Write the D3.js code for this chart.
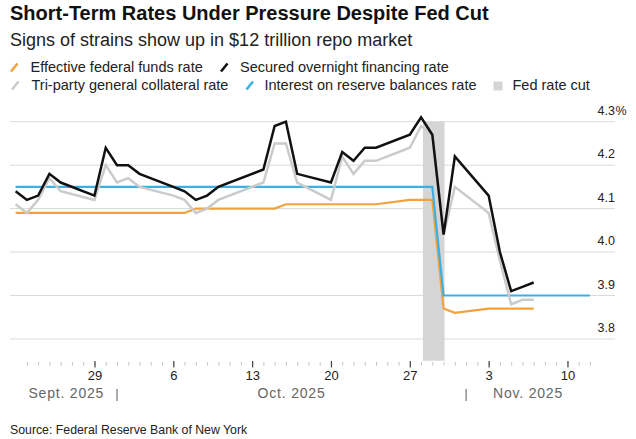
<!DOCTYPE html>
<meta charset="utf-8">
<style>
  body { margin: 0; background: #fff; }
  text { font-family: "Liberation Sans", Arial, sans-serif; }
</style>
<body>
<div id="chart"></div>

<script src="https://d3js.org/d3.v7.min.js"></script>
<script>

// business days shown (Oct 13 was a holiday, no fixing)
var days = [
  "2025-09-22","2025-09-23","2025-09-24","2025-09-25","2025-09-26",
  "2025-09-29","2025-09-30","2025-10-01","2025-10-02","2025-10-03",
  "2025-10-06","2025-10-07","2025-10-08","2025-10-09","2025-10-10",
  "2025-10-14","2025-10-15","2025-10-16","2025-10-17",
  "2025-10-20","2025-10-21","2025-10-22","2025-10-23","2025-10-24",
  "2025-10-27","2025-10-28","2025-10-29","2025-10-30","2025-10-31",
  "2025-11-03","2025-11-04","2025-11-05","2025-11-06","2025-11-07"
];

// Secured overnight financing rate
var sofr = [4.14, 4.12, 4.13, 4.18, 4.16,
            4.13, 4.24, 4.20, 4.20, 4.18,
            4.15, 4.14, 4.12, 4.13, 4.15,
            4.19, 4.29, 4.30, 4.18,
            4.16, 4.23, 4.21, 4.24, 4.24,
            4.27, 4.31, 4.27, 4.04, 4.22,
            4.13, 4.00, 3.91, 3.92, 3.93];

// Tri-party general collateral rate
var tgcr = [4.11, 4.09, 4.12, 4.17, 4.14,
            4.12, 4.20, 4.16, 4.17, 4.15,
            4.13, 4.12, 4.09, 4.10, 4.12,
            4.16, 4.25, 4.25, 4.16,
            4.12, 4.22, 4.18, 4.21, 4.21,
            4.24, 4.29, 4.27, 4.04, 4.15,
            4.09, 3.98, 3.88, 3.89, 3.89];

// Effective federal funds rate
var effr = [4.09, 4.09, 4.09, 4.09, 4.09,
            4.09, 4.09, 4.09, 4.09, 4.09,
            4.09, 4.09, 4.10, 4.10, 4.10,
            4.10, 4.10, 4.11, 4.11,
            4.11, 4.11, 4.11, 4.11, 4.11,
            4.12, 4.12, 4.12, 3.87, 3.86,
            3.87, 3.87, 3.87, 3.87, 3.87];

// Interest on reserve balances rate (known ahead, runs further right)
var iorbDays = days.concat(["2025-11-10","2025-11-11","2025-11-12"]);
var iorb = [4.15, 4.15, 4.15, 4.15, 4.15,
            4.15, 4.15, 4.15, 4.15, 4.15,
            4.15, 4.15, 4.15, 4.15, 4.15,
            4.15, 4.15, 4.15, 4.15,
            4.15, 4.15, 4.15, 4.15, 4.15,
            4.15, 4.15, 4.15, 3.90, 3.90,
            3.90, 3.90, 3.90, 3.90, 3.90,
            3.90, 3.90, 3.90];

// Fed rate cut window
var cutWindow = ["2025-10-28T04:00", "2025-10-30T02:00"];

var yTicks = [3.8, 3.9, 4.0, 4.1, 4.2, 4.3];
var weekTicks = ["2025-09-29","2025-10-06","2025-10-13","2025-10-20","2025-10-27","2025-11-03","2025-11-10"];
var monthStarts = ["2025-09-01","2025-10-01","2025-11-01","2025-12-01"];
var monthLabels = ["Sept. 2025", "Oct. 2025", "Nov. 2025"];

var W = 636, H = 439;
var parseDay = d3.timeParse("%Y-%m-%d");
var parseTime = d3.timeParse("%Y-%m-%dT%H:%M");

var svg = d3.select("#chart").append("svg")
  .attr("width", W).attr("height", H);

var x = d3.scaleTime()
  .domain([new Date(2025, 8, 21, 12), new Date(2025, 10, 12)])
  .range([10, 590]);
var y = d3.scaleLinear()
  .domain([3.75, 4.3])
  .range([360.7, 121.7]);

// gridlines
svg.append("g").selectAll("line")
  .data(yTicks).enter().append("line")
    .attr("x1", 10).attr("x2", 615)
    .attr("y1", function(d) { return y(d); })
    .attr("y2", function(d) { return y(d); })
    .attr("stroke", "#dadada").attr("stroke-width", 1);

// y labels
svg.append("g").selectAll("text")
  .data(yTicks).enter().append("text")
    .attr("x", 615)
    .attr("y", function(d) { return y(d) - 7; })
    .attr("text-anchor", "end")
    .attr("font-size", 12.5)
    .attr("fill", "#222")
    .text(function(d) { return d.toFixed(1); });
svg.append("text")
  .attr("x", 615.5).attr("y", y(4.3) - 7)
  .attr("font-size", 12.5).attr("fill", "#222")
  .text("%");

// rate cut band
svg.append("rect")
  .attr("x", x(parseTime(cutWindow[0])))
  .attr("width", x(parseTime(cutWindow[1])) - x(parseTime(cutWindow[0])))
  .attr("y", y(4.3))
  .attr("height", y(3.75) - y(4.3))
  .attr("fill", "#d5d5d5");

// lines
function series(dates, vals) {
  return dates.map(function(d, i) { return {date: parseDay(d), v: vals[i]}; });
}
var line = d3.line()
  .x(function(d) { return x(d.date); })
  .y(function(d) { return y(d.v); });

var lines = [
  {data: series(days, effr), color: "#f2a23c", w: 2.2},
  {data: series(iorbDays, iorb), color: "#3cb0e2", w: 2.2},
  {data: series(days, tgcr), color: "#cbcbcb", w: 2.5},
  {data: series(days, sofr), color: "#111111", w: 2.5}
];
lines.forEach(function(s) {
  svg.append("path")
    .datum(s.data)
    .attr("d", line)
    .attr("fill", "none")
    .attr("stroke", s.color)
    .attr("stroke-width", s.w)
    .attr("stroke-linejoin", "miter");
});

// x axis: daily minor ticks, weekly labelled ticks
var minor = svg.append("g")
  .attr("transform", "translate(0,362)")
  .call(d3.axisBottom(x)
    .tickValues(d3.timeDay.range(new Date(2025, 8, 23), new Date(2025, 10, 13)))
    .tickSize(3.5).tickFormat(""));
minor.select(".domain").remove();
minor.selectAll("line").attr("stroke", "#c4c4c4");

var major = svg.append("g")
  .attr("transform", "translate(0,361)")
  .call(d3.axisBottom(x)
    .tickValues(weekTicks.map(parseDay))
    .tickSize(6.5).tickPadding(3.2)
    .tickFormat(d3.timeFormat("%-d")));
major.select(".domain").remove();
major.selectAll("line").attr("stroke", "#444").attr("stroke-width", 1.2);
major.selectAll("text")
  .attr("font-family", "Liberation Sans, Arial, sans-serif")
  .attr("font-size", 13).attr("fill", "#222");

// month labels and separators
var first = parseDay(days[0]), last = x.domain()[1];
monthLabels.forEach(function(m, i) {
  var a = d3.max([parseDay(monthStarts[i]), first]);
  var b = d3.min([parseDay(monthStarts[i + 1]), last]);
  svg.append("text")
    .attr("x", (x(a) + x(b)) / 2).attr("y", 398.3)
    .attr("text-anchor", "middle")
    .attr("font-size", 14).attr("letter-spacing", 0.8)
    .attr("fill", "#666")
    .text(m);
});
svg.append("g").selectAll("line")
  .data(monthStarts.slice(1, 3)).enter().append("line")
    .attr("x1", function(d) { return x(parseDay(d)); })
    .attr("x2", function(d) { return x(parseDay(d)); })
    .attr("y1", 389).attr("y2", 401)
    .attr("stroke", "#888").attr("stroke-width", 1.4);

// titles
svg.append("text").attr("x", 10).attr("y", 20)
  .attr("font-size", 20).attr("font-weight", "bold").attr("fill", "#111")
  .text("Short-Term Rates Under Pressure Despite Fed Cut");
svg.append("text").attr("x", 10).attr("y", 46)
  .attr("font-size", 18).attr("fill", "#222")
  .text("Signs of strains show up in $12 trillion repo market");

// legend
var legend = [
  {label: "Effective federal funds rate", color: "#f2a23c", ix: 11, tx: 30.5, ty: 71.5},
  {label: "Secured overnight financing rate", color: "#111111", ix: 221, tx: 240, ty: 71.5},
  {label: "Tri-party general collateral rate", color: "#cbcbcb", ix: 12, tx: 31.5, ty: 89.5},
  {label: "Interest on reserve balances rate", color: "#3cb0e2", ix: 246.5, tx: 264.5, ty: 89.5}
];
legend.forEach(function(l) {
  svg.append("line")
    .attr("x1", l.ix).attr("y1", l.ty)
    .attr("x2", l.ix + 6.5).attr("y2", l.ty - 8)
    .attr("stroke", l.color).attr("stroke-width", 2.6);
  svg.append("text").attr("x", l.tx).attr("y", l.ty)
    .attr("font-size", 14.5).attr("fill", "#222").text(l.label);
});
svg.append("rect").attr("x", 493.5).attr("y", 81.5)
  .attr("width", 9).attr("height", 9).attr("fill", "#d5d5d5");
svg.append("text").attr("x", 512.5).attr("y", 89.5)
  .attr("font-size", 14.5).attr("fill", "#222").text("Fed rate cut");

// source
svg.append("text").attr("x", 10).attr("y", 434)
  .attr("font-size", 12.3).attr("fill", "#222")
  .text("Source: Federal Reserve Bank of New York");

</script>
</body>
